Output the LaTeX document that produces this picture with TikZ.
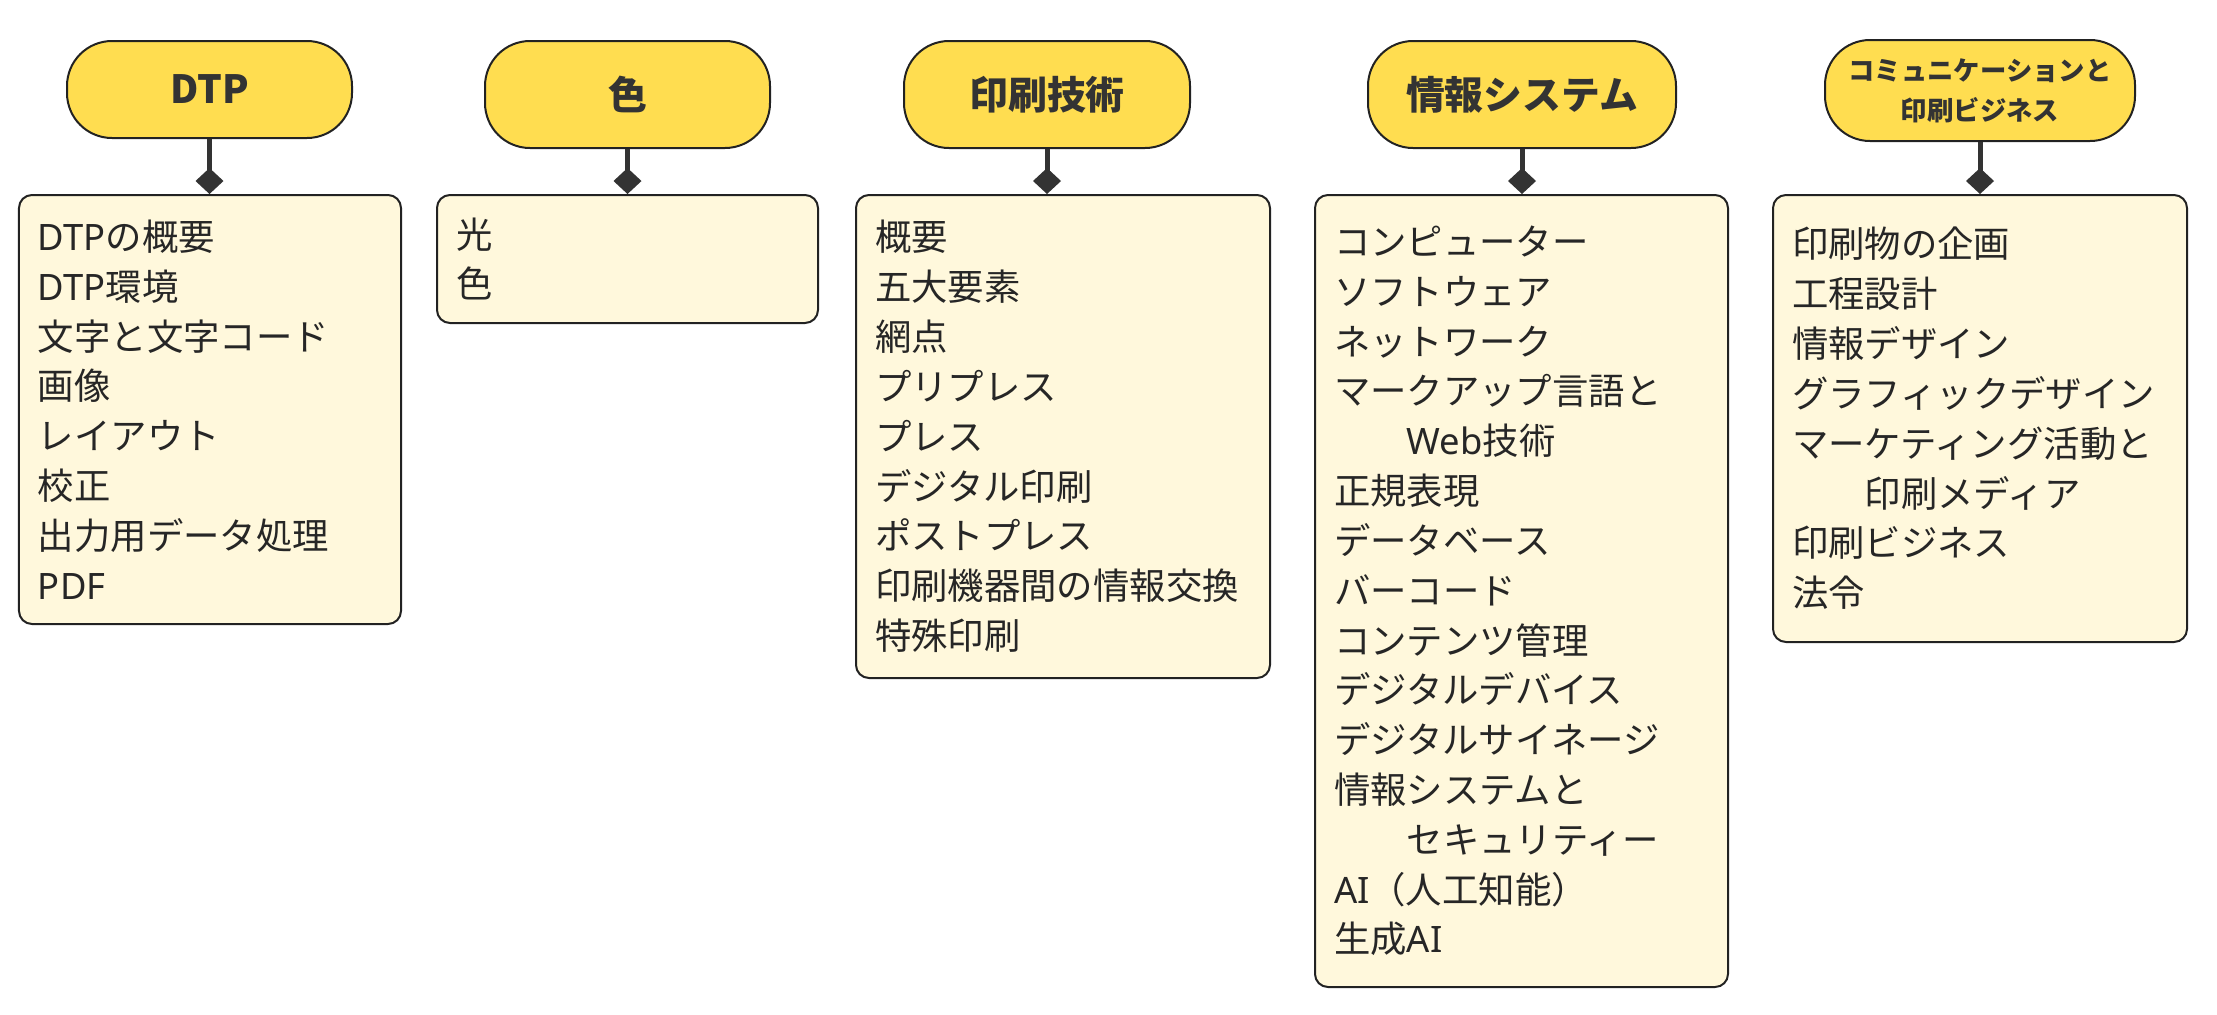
\documentclass[tikz,border=0pt]{standalone}
\usepackage{fontspec}
\setmainfont{Noto Sans CJK JP}
\newfontfamily\latinfont{Noto Sans}
\usepackage{tikz}
\usetikzlibrary{positioning, arrows.meta}

\definecolor{topicfill}{RGB}{255,221,80}
\definecolor{itemfill}{RGB}{255,248,220}
\definecolor{linkcol}{RGB}{51,51,51}
\definecolor{edgecol}{RGB}{34,34,34}

\begin{document}
\begin{tikzpicture}[
        topic/.style={
            draw=edgecol,
            line width=0.04cm,
            fill=topicfill,
            rounded corners=0.9cm,
            minimum width=5.7cm,
            minimum height=2.14cm,
            text=linkcol,
            font=\fontsize{22.1pt}{26pt}\selectfont\bfseries
        },
        items/.style={
            draw=edgecol,
            line width=0.04cm,
            fill=itemfill,
            rounded corners=0.26cm,
            anchor=north,
            inner xsep=0.38cm,
            inner ysep=0pt,
            align=left,
            text=black!85,
            font=\fontsize{20.7pt}{28.35pt}\selectfont
        },
        link/.style={
            draw=linkcol,
            line width=0.1cm,
            -{Diamond[length=0.52cm, width=0.56cm, line width=0pt]}
        }
    ]

        \useasboundingbox (0, 0) rectangle (44.34, -20.28);

        % Topic headers
        \node[topic, minimum height=1.94cm] (hdtp) at (4.19, -1.79) {DTP};
        \node[topic] (hiro) at (12.55, -1.89) {色};
        \node[topic, minimum width=5.72cm] (hinsatsu) at (20.94, -1.89) {印刷技術};
        \node[topic, minimum width=6.16cm] (hjoho) at (30.44, -1.89) {情報システム};
        \node[topic, minimum width=6.2cm, minimum height=2.02cm, align=center,
              font=\fontsize{15pt}{22.7pt}\selectfont\bfseries] (hcomm) at (39.6, -1.81)
              {コミュニケーションと\\印刷ビジネス};

        % DTP items
        \node[items, text width=6.88cm, minimum height=8.58cm] (bdtp) at (4.2, -3.88) {
            {\latinfont DTP}の概要\\
            {\latinfont DTP}環境\\
            文字と文字コード\\
            画像\\
            レイアウト\\
            校正\\
            出力用データ処理\\
            {\latinfont PDF}};

        % Color items
        \node[items, text width=6.86cm, minimum height=2.56cm] (biro) at (12.55, -3.88) {
            光\\
            色};

        % Printing technology items
        \node[items, text width=7.52cm, minimum height=9.66cm] (binsatsu) at (21.26, -3.88) {
            概要\\
            五大要素\\
            網点\\
            プリプレス\\
            プレス\\
            デジタル印刷\\
            ポストプレス\\
            印刷機器間の情報交換\\
            特殊印刷};

        % Information system items
        \node[items, text width=7.5cm, minimum height=15.84cm] (bjoho) at (30.43, -3.88) {
            コンピューター\\
            ソフトウェア\\
            ネットワーク\\
            マークアップ言語と\\
            　　{\latinfont Web}技術\\
            正規表現\\
            データベース\\
            バーコード\\
            コンテンツ管理\\
            デジタルデバイス\\
            デジタルサイネージ\\
            情報システムと\\
            　　セキュリティー\\
            {\latinfont AI}（人工知能）\\
            生成{\latinfont AI}};

        % Communication and business items
        \node[items, text width=7.52cm, minimum height=8.94cm] (bcomm) at (39.6, -3.88) {
            印刷物の企画\\
            工程設計\\
            情報デザイン\\
            グラフィックデザイン\\
            マーケティング活動と\\
            　　印刷メディア\\
            印刷ビジネス\\
            法令};

        % Diamond links
        \draw[link] (hdtp.south) -- (hdtp.south |- bdtp.north);
        \draw[link] (hiro.south) -- (hiro.south |- biro.north);
        \draw[link] (hinsatsu.south) -- (hinsatsu.south |- binsatsu.north);
        \draw[link] (hjoho.south) -- (hjoho.south |- bjoho.north);
        \draw[link] (hcomm.south) -- (hcomm.south |- bcomm.north);

    \end{tikzpicture}
\end{document}
